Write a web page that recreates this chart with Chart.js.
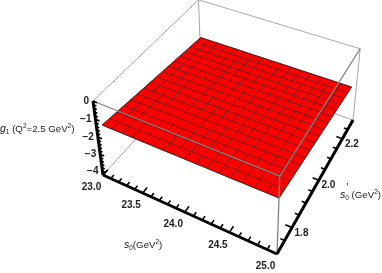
<!DOCTYPE html>
<html>
<head>
<meta charset="utf-8">
<style>
html, body { margin: 0; padding: 0; background: #fff; }
canvas { display: block; filter: blur(0.35px); }
</style>
<script src="https://cdn.jsdelivr.net/npm/chart.js@4/dist/chart.umd.min.js"></script>
</head>
<body>
<canvas id="plot" width="382" height="273"></canvas>
<script>
// axis ranges of the box
var s0Range = [23.0, 25.0];
var s0pRange = [1.7, 2.3];
var g1Range = [-4.25, 0];

// ticks
var s0Major = [23.0, 23.5, 24.0, 24.5, 25.0];
var s0Minor = [23.1, 23.2, 23.3, 23.4, 23.6, 23.7, 23.8, 23.9, 24.1, 24.2, 24.3, 24.4, 24.6, 24.7, 24.8, 24.9];
var s0Labels = ["23.0", "23.5", "24.0", "24.5", "25.0"];
var s0pMajor = [1.8, 2.0, 2.2];
var s0pMinor = [1.75, 1.85, 1.9, 1.95, 2.05, 2.1, 2.15, 2.25];
var s0pLabels = ["1.8", "2.0", "2.2"];
var g1Major = [0, -1, -2, -3, -4];
var g1Minor = [-0.2, -0.4, -0.6, -0.8, -1.2, -1.4, -1.6, -1.8, -2.2, -2.4, -2.6, -2.8, -3.2, -3.4, -3.6, -3.8, -4.2];
var g1Labels = ["0", "\u22121", "\u22122", "\u22123", "\u22124"];

// surface mesh, read along its four edges: (s0, s0', g1) where each mesh line meets the edge
var frontS0 = [23.048, 23.17, 23.292, 23.414, 23.536, 23.658, 23.78, 23.902, 24.024, 24.146, 24.268, 24.39, 24.512, 24.634, 24.756, 24.878, 25.0];
var frontS0p = [1.710, 1.709, 1.709, 1.708, 1.707, 1.707, 1.706, 1.706, 1.705, 1.704, 1.704, 1.703, 1.702, 1.702, 1.701, 1.701, 1.700];
var frontG1 = [-1.343, -1.330, -1.316, -1.303, -1.289, -1.276, -1.262, -1.249, -1.236, -1.222, -1.209, -1.195, -1.182, -1.168, -1.155, -1.141, -1.128];

var backS0 = [23.012, 23.134, 23.255, 23.377, 23.498, 23.62, 23.741, 23.863, 23.984, 24.106, 24.227, 24.349, 24.47, 24.592, 24.713, 24.835, 24.956];
var backS0p = [2.300, 2.299, 2.299, 2.298, 2.298, 2.297, 2.296, 2.296, 2.295, 2.295, 2.294, 2.293, 2.293, 2.292, 2.292, 2.291, 2.290];
var backG1 = [-2.312, -2.304, -2.296, -2.289, -2.281, -2.273, -2.265, -2.257, -2.25, -2.242, -2.234, -2.226, -2.218, -2.21, -2.203, -2.195, -2.187];

var leftS0 = [23.048, 23.046, 23.044, 23.041, 23.039, 23.037, 23.035, 23.032, 23.03, 23.028, 23.026, 23.023, 23.021, 23.019, 23.017, 23.014, 23.012];
var leftS0p = [1.710, 1.747, 1.784, 1.821, 1.858, 1.894, 1.931, 1.968, 2.005, 2.042, 2.079, 2.116, 2.153, 2.189, 2.226, 2.263, 2.300];
var leftG1 = [-1.343, -1.404, -1.464, -1.525, -1.585, -1.646, -1.706, -1.767, -1.828, -1.888, -1.949, -2.009, -2.07, -2.13, -2.191, -2.251, -2.312];

var rightS0 = [25.0, 24.997, 24.995, 24.992, 24.989, 24.986, 24.984, 24.981, 24.978, 24.975, 24.973, 24.97, 24.967, 24.964, 24.962, 24.959, 24.956];
var rightS0p = [1.700, 1.737, 1.774, 1.811, 1.848, 1.884, 1.921, 1.958, 1.995, 2.032, 2.069, 2.106, 2.143, 2.179, 2.216, 2.253, 2.290];
var rightG1 = [-1.128, -1.194, -1.260, -1.327, -1.393, -1.459, -1.525, -1.591, -1.658, -1.724, -1.79, -1.856, -1.922, -1.988, -2.055, -2.121, -2.187];

// perspective camera fitted to the box corners
function project(s0, s0p, g1) {
    var u = (s0 - s0Range[0]) / (s0Range[1] - s0Range[0]);
    var v = (s0p - s0pRange[0]) / (s0pRange[1] - s0pRange[0]);
    var w = (g1 - g1Range[0]) / (g1Range[1] - g1Range[0]);
    var d = 1 - 0.1142 * u + 0.2018 * v - 0.0667 * w;
    return {
        x: (142.37 * u + 138.56 * v - 16.2 * w + 103) / d,
        y: (50.0 * u - 94.48 * v - 80.73 * w + 175) / d
    };
}

function seg(out, a, b) {
    out.push(project(a[0], a[1], a[2]), project(b[0], b[1], b[2]), { x: null, y: null });
}

var s0a = s0Range[0], s0b = s0Range[1], pa = s0pRange[0], pb = s0pRange[1], za = g1Range[0], zb = g1Range[1];

var backBox = [];
seg(backBox, [s0a, pa, za], [s0a, pb, za]);
seg(backBox, [s0a, pb, za], [s0b, pb, za]);
seg(backBox, [s0a, pb, za], [s0a, pb, zb]);
seg(backBox, [s0a, pa, zb], [s0a, pb, zb]);
seg(backBox, [s0a, pb, zb], [s0b, pb, zb]);
seg(backBox, [s0b, pb, za], [s0b, pb, zb]);

var frontBox = [];
seg(frontBox, [s0a, pa, zb], [s0b, pa, zb]);
seg(frontBox, [s0b, pa, zb], [s0b, pb, zb]);
seg(frontBox, [s0b, pa, za], [s0b, pa, zb]);

var surface = [];
frontS0.forEach(function (s, i) { surface.push(project(s, frontS0p[i], frontG1[i])); });
rightS0.forEach(function (s, i) { surface.push(project(s, rightS0p[i], rightG1[i])); });
for (var i = backS0.length - 1; i >= 0; i--) surface.push(project(backS0[i], backS0p[i], backG1[i]));
for (var j = leftS0.length - 1; j >= 0; j--) surface.push(project(leftS0[j], leftS0p[j], leftG1[j]));

var mesh = [];
frontS0.forEach(function (s, i) {
    seg(mesh, [s, frontS0p[i], frontG1[i]], [backS0[i], backS0p[i], backG1[i]]);
});
leftS0.forEach(function (s, i) {
    seg(mesh, [s, leftS0p[i], leftG1[i]], [rightS0[i], rightS0p[i], rightG1[i]]);
});

var axes = [];
seg(axes, [s0a, pa, za], [s0b, pa, za]);
seg(axes, [s0b, pa, za], [s0b, pb, za]);
seg(axes, [s0a, pa, za], [s0a, pa, zb]);

var ticks = [];
s0Major.forEach(function (t) { seg(ticks, [t, pa, za], [t, pa + 0.024, za]); });
s0Minor.forEach(function (t) { seg(ticks, [t, pa, za], [t, pa + 0.016, za]); });
s0pMajor.forEach(function (t) { seg(ticks, [s0b, t, za], [s0b - 0.07, t, za]); });
s0pMinor.forEach(function (t) { seg(ticks, [s0b, t, za], [s0b - 0.045, t, za]); });
g1Major.forEach(function (t) { seg(ticks, [s0a, pa, t], [s0a + 0.05, pa, t]); });
g1Minor.forEach(function (t) { seg(ticks, [s0a, pa, t], [s0a + 0.035, pa, t]); });

function line(data, color, width, extra) {
    return Object.assign({
        data: data, showLine: true, pointRadius: 0, borderColor: color, borderWidth: width,
        spanGaps: false, clip: false, tension: 0
    }, extra || {});
}

// writes runs of text: each run may set italic, size and a baseline shift
function writeRuns(ctx, x, y, runs, color) {
    ctx.fillStyle = color;
    ctx.textAlign = "left";
    ctx.textBaseline = "alphabetic";
    runs.forEach(function (r) {
        ctx.font = (r.i ? "italic " : "") + (r.s || 9.7) + 'px "Liberation Sans"';
        ctx.fillText(r.t, x, y + (r.d || 0));
        x += ctx.measureText(r.t).width;
    });
}

var labelPlugin = {
    id: "labels",
    afterDraw: function (chart) {
        var ctx = chart.ctx;
        ctx.save();
        ctx.fillStyle = "#222";
        ctx.font = 'bold 10px "Liberation Sans"';
        ctx.textBaseline = "middle";

        ctx.textAlign = "center";
        s0Major.forEach(function (t, i) {
            var p = project(t, pa, za);
            ctx.fillText(s0Labels[i], p.x - 11.5, p.y + 12.5);
        });
        s0pMajor.forEach(function (t, i) {
            var p = project(s0b, t, za);
            ctx.fillText(s0pLabels[i], p.x + 9.5, p.y + 5.5);
        });
        ctx.textAlign = "right";
        g1Major.forEach(function (t, i) {
            var p = project(s0a, pa, t);
            ctx.fillText(g1Labels[i], p.x - 4, p.y);
        });

        writeRuns(ctx, 124, 248, [
            { t: "s", i: true, s: 10.5 }, { t: "0", s: 6.5, d: 2 }, { t: "(GeV" },
            { t: "2", s: 6.5, d: -4 }, { t: ")" }
        ], "#222");
        writeRuns(ctx, 340, 198, [
            { t: "s", i: true, s: 10.5 }, { t: "0", s: 6.5, d: 2 }, { t: " (GeV" },
            { t: "2", s: 6.5, d: -4 }, { t: ")" }
        ], "#222");
        writeRuns(ctx, 346.5, 190.5, [{ t: "'", s: 10 }], "#222");
        writeRuns(ctx, 0, 132, [
            { t: "g", i: true, s: 10.5 }, { t: "1", s: 6.5, d: 2 }, { t: " (Q" },
            { t: "2", s: 6.5, d: -4 }, { t: "=2.5 GeV" }, { t: "2", s: 6.5, d: -4 }, { t: ")" }
        ], "#222");
        ctx.restore();
    }
};

new Chart(document.getElementById("plot").getContext("2d"), {
    type: "scatter",
    data: {
        // first dataset ends up on top
        datasets: [
            line(axes, "#000", 3),
            line(ticks, "#000", 1.6),
            line(frontBox, "#858080", 1.3),
            line(mesh, "rgba(105,30,30,0.85)", 1),
            line(surface, "rgba(80,20,20,0.85)", 1, { fill: "shape", backgroundColor: "#ff0000" }),
            line(backBox, "#a8a8a8", 1)
        ]
    },
    options: {
        responsive: false,
        animation: false,
        layout: { padding: 0 },
        plugins: { legend: { display: false }, tooltip: { enabled: false } },
        scales: {
            x: { type: "linear", min: 0, max: 382, display: false },
            y: { type: "linear", min: 0, max: 273, reverse: true, display: false }
        }
    },
    plugins: [labelPlugin]
});
</script>
</body>
</html>
